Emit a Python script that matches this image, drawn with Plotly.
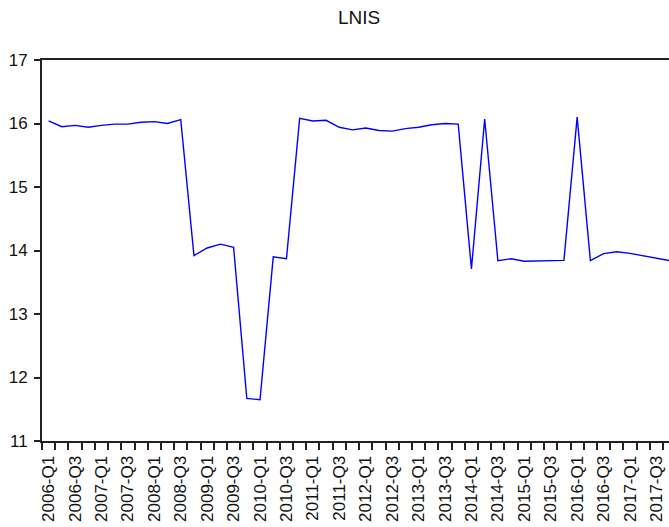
import plotly.graph_objects as go

# Quarterly periods 2006-Q1 .. 2017-Q4
years = list(range(2006, 2018))
quarters = ["Q1", "Q2", "Q3", "Q4"]
periods = [f"{y}-{q}" for y in years for q in quarters]

# LNIS series (log scale values), one per quarter
lnis = [
    16.04, 15.95, 15.97, 15.94,   # 2006
    15.97, 15.99, 15.99, 16.02,   # 2007
    16.03, 16.00, 16.06, 13.92,   # 2008
    14.04, 14.10, 14.05, 11.67,   # 2009
    11.65, 13.90, 13.87, 16.08,   # 2010
    16.04, 16.05, 15.94, 15.90,   # 2011
    15.93, 15.89, 15.88, 15.92,   # 2012
    15.94, 15.98, 16.00, 15.99,   # 2013
    13.71, 16.07, 13.84, 13.87,   # 2014
    13.83, 13.835, 13.84, 13.845, # 2015
    16.10, 13.84, 13.95, 13.98,   # 2016
    13.955, 13.92, 13.88, 13.84,  # 2017
]

y_ticks = [11, 12, 13, 14, 15, 16, 17]

idx = list(range(len(periods)))
label_idx = idx[::2]
label_text = [periods[i] for i in label_idx]
boundaries = [i - 0.5 for i in idx]

FONT = "Liberation Sans, Arial, sans-serif"

fig = go.Figure(
    go.Scatter(
        x=idx,
        y=lnis,
        mode="lines",
        line=dict(color="#0000ff", width=1.4),
        hoverinfo="skip",
    )
)

fig.update_layout(
    width=669,
    height=527,
    margin=dict(l=42, r=0, t=60, b=86, pad=0),
    paper_bgcolor="white",
    plot_bgcolor="white",
    showlegend=False,
    font=dict(family=FONT, color="#1a1a1a"),
    title=dict(
        text="LNIS",
        x=0.5056,
        xanchor="center",
        xref="paper",
        y=1 - 17 / 527,
        yanchor="middle",
        font=dict(size=19, family=FONT, color="#111111"),
    ),
)

fig.update_xaxes(
    range=[-0.5, 46.95],
    tickmode="array",
    tickvals=label_idx,
    ticktext=label_text,
    tickangle=-90,
    ticks="",
    ticklabelstandoff=6,
    tickfont=dict(size=17, family=FONT, color="#111111"),
    showgrid=False,
    zeroline=False,
    showline=True,
    linecolor="#222222",
    linewidth=2,
    mirror=True,
    automargin=False,
    minor=dict(
        tickmode="array",
        tickvals=boundaries,
        ticks="outside",
        ticklen=7,
        tickwidth=1.5,
        tickcolor="#222222",
        showgrid=False,
    ),
)

fig.update_yaxes(
    range=[11, 17],
    tickmode="array",
    tickvals=y_ticks,
    ticks="outside",
    ticklen=6,
    tickwidth=1.5,
    tickcolor="#222222",
    ticklabelstandoff=3,
    tickfont=dict(size=17, family=FONT, color="#111111"),
    showgrid=False,
    zeroline=False,
    showline=True,
    linecolor="#222222",
    linewidth=2,
    mirror=False,
    automargin=False,
)

fig.write_html("out.html")
